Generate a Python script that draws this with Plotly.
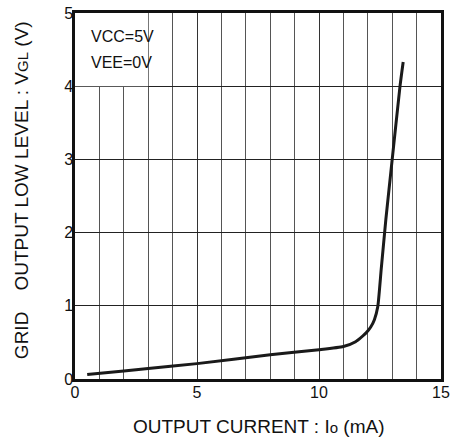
import plotly.graph_objects as go

io_ma = [0.5, 2.0, 3.0, 5.0, 8.0, 10.0, 11.0, 11.5, 11.93, 12.12, 12.27, 12.41, 12.55, 12.74, 13.0, 13.32, 13.45]
vgl_v = [0.06, 0.11, 0.145, 0.21, 0.33, 0.40, 0.445, 0.51, 0.63, 0.71, 0.81, 0.99, 1.5, 2.18, 3.0, 4.0, 4.33]

x_ticks = [0, 5, 10, 15]
y_ticks = [0, 1, 2, 3, 4, 5]
notes = ["VCC=5V", "VEE=0V"]
x_title = "OUTPUT CURRENT : I<span style='font-size:15px'>o</span> (mA)"
y_title = "GRID\u00a0\u00a0\u00a0\u00a0OUTPUT LOW LEVEL : V<span style='font-size:15px'>GL</span> (V)"

FONT = "Liberation Sans, Arial, sans-serif"

fig = go.Figure()
fig.add_trace(go.Scatter(
    x=io_ma, y=vgl_v, mode="lines",
    line=dict(color="#1a1a1a", width=3, shape="spline", smoothing=0.5),
    showlegend=False, hoverinfo="skip",
))

# white box behind the condition notes (covers grid)
fig.add_shape(type="rect", xref="x", yref="y", x0=0, x1=3, y0=4, y1=5,
              fillcolor="white", line=dict(width=0), layer="between")

for i, t in enumerate(notes):
    fig.add_annotation(text=t, xref="paper", yref="paper",
                       x=0.038, y=0.935 - i * 0.071, xanchor="left", yanchor="middle",
                       showarrow=False, font=dict(family=FONT, size=16, color="#111"))

# axis titles
fig.add_annotation(text=x_title, xref="paper", yref="paper", x=0.5, y=-0.131,
                   xanchor="center", yanchor="middle", showarrow=False,
                   font=dict(family=FONT, size=19, color="#111"))
fig.add_annotation(text=y_title, xref="paper", yref="paper", x=0, y=0.516,
                   xanchor="center", yanchor="middle", xshift=-54, textangle=-90,
                   showarrow=False, font=dict(family=FONT, size=19, color="#111"))

fig.update_layout(
    width=452, height=440,
    margin=dict(l=75, r=11, t=13, b=61),
    paper_bgcolor="white", plot_bgcolor="white",
    font=dict(family=FONT, color="#111"),
    xaxis=dict(
        range=[0, 15], tickmode="array", tickvals=x_ticks, ticktext=[str(v) for v in x_ticks],
        showgrid=True, gridcolor="#333", gridwidth=1,
        minor=dict(dtick=1, tick0=0, showgrid=True, gridcolor="#555", gridwidth=1),
        showline=True, mirror=True, linecolor="#111", linewidth=2.5,
        zeroline=False, ticks="", tickfont=dict(size=16), automargin=False,
        ticklabelstandoff=-3, ticklabeloverflow="allow",
    ),
    yaxis=dict(
        range=[0, 5], tickmode="array", tickvals=y_ticks, ticktext=[str(v) for v in y_ticks],
        showgrid=True, gridcolor="#222", gridwidth=1,
        showline=True, mirror=True, linecolor="#111", linewidth=2.5,
        zeroline=False, ticks="", tickfont=dict(size=16), automargin=False,
        ticklabelstandoff=-4, ticklabeloverflow="allow",
    ),
)

fig.write_html("out.html", config={"displayModeBar": False},
               post_script="document.body.style.margin='0';")
